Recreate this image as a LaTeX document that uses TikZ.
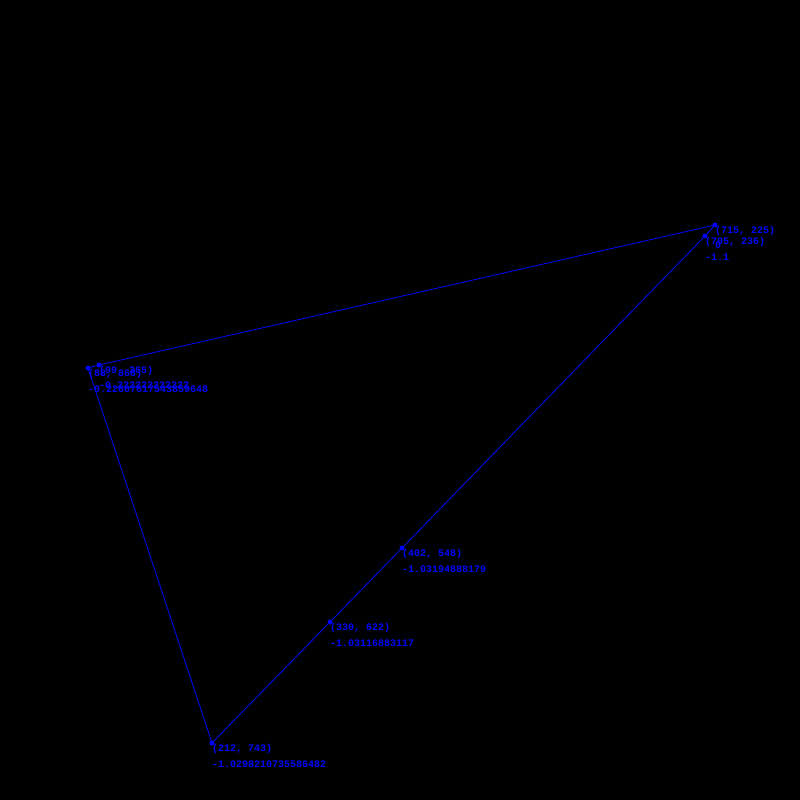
\documentclass[tikz,border=0pt]{standalone}
\usepackage{fontspec}
\setmonofont{Liberation Mono}
\usepackage{xcolor}
\usepackage{tikz}
\usetikzlibrary{positioning, calc}
\definecolor{ptblue}{RGB}{0, 0, 255}

\begin{document}
\begin{tikzpicture}[
    x=1pt, y=-1pt,
    pt/.style={circle, fill=ptblue, inner sep=0pt, minimum size=5pt},
    lbl/.style={anchor=west, inner sep=0pt, text=ptblue, font=\fontsize{10}{10}\selectfont\ttfamily\bfseries},
    edge/.style={draw=ptblue, line width=0.8pt}
]
    % Canvas
    \fill[black] (0,0) rectangle (800,800);
    \useasboundingbox (0,0) rectangle (800,800);

    % Points
    \node[pt] (p1) at (715,225) {};
    \node[pt] (p2) at (705,236) {};
    \node[pt] (p3) at (99,365) {};
    \node[pt] (p4) at (88,368) {};
    \node[pt] (p5) at (402,548) {};
    \node[pt] (p6) at (330,622) {};
    \node[pt] (p7) at (212,743) {};

    % Outline
    \draw[edge] (p1.center) -- (p3.center) -- (p4.center) -- (p7.center)
        -- (p6.center) -- (p5.center) -- (p2.center) -- (p1.center);

    % Labels
    \node[lbl] (c1) at (715,231) {(715, 225)};
    \node[lbl] (v1) at (715,245) {0};
    \node[lbl] (c2) at (705,242) {(705, 236)};
    \node[lbl] (v2) at (705,257) {-1.1};
    \node[lbl] (c3) at (99,371) {(99, 365)};
    \node[lbl] (v3) at (99,385) {-0.222222222222};
    \node[lbl] (c4) at (88,374) {(88, 368)};
    \node[lbl] (v4) at (88,389) {-0.22607617543859648};
    \node[lbl] (c5) at (402,554) {(402, 548)};
    \node[lbl] (v5) at (402,569) {-1.03194888179};
    \node[lbl] (c6) at (330,628) {(330, 622)};
    \node[lbl] (v6) at (330,643) {-1.03116883117};
    \node[lbl] (c7) at (212,749) {(212, 743)};
    \node[lbl] (v7) at (212,764) {-1.0298210735586482};
\end{tikzpicture}
\end{document}
